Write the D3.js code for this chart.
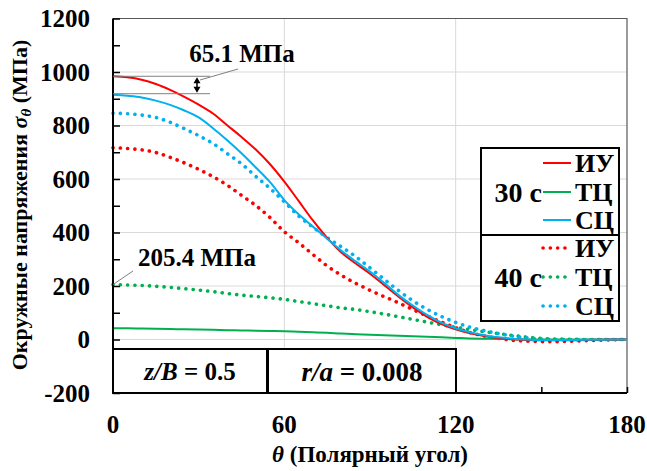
<!DOCTYPE html>
<html><head><meta charset="utf-8">
<script src="https://cdn.jsdelivr.net/npm/d3@7"></script>
<style>body{margin:0;background:#fff}svg{display:block}</style>
</head><body><svg id="c" width="647" height="471"></svg>
<script>
const theta = [0,5,10,15,20,25,30,35,40,45,50,55,60,65,70,75,80,85,90,95,100,105,110,115,120,125,130,135,140,145,150,155,160,165,170,175,180];
const iu30 = [984,980,971,955,933,907,878,845,801,757,710,655,590,518,445,380,325,284,246,203,160,120,85,58,38,23,13,6,1,-2,-3,-3,-3,-2,-1,0,0];
const tc30 = [42,42,41,40,39,38,37,36,35,34,33,32,31,29,27,25,22,20,18,16,14,12,10,8,6,4,3,2,1,0,0,0,0,0,0,0,0];
const sc30 = [915,911,905,893,877,856,830,790,745,696,643,588,521,468,422,377,332,292,254,211,166,127,92,63,42,27,16,8,3,0,-2,-2,-2,-1,-1,0,0];
const iu40 = [717,714,709,699,681,660,636,609,577,539,501,456,403,362,318,275,240,210,184,160,137,112,88,65,44,26,13,4,-3,-6,-8,-8,-7,-5,-3,-1,0];
const tc40 = [205,204,202,199,195,190,185,179,172,166,161,156,150,142,134,126,118,112,104,95,85,75,65,55,46,37,29,22,15,9,4,2,1,0,0,0,0];
const sc40 = [846,844,839,830,812,788,762,733,695,657,610,565,515,462,420,381,346,310,268,225,183,145,113,86,64,46,33,22,13,6,2,0,0,0,0,0,0];
const yTicks = [-200,0,200,400,600,800,1000,1200];
const xTicks = [0,60,120,180];
const legendGroups = ["30 с","40 с"];
const legendNames = ["ИУ","ТЦ","СЦ"];
const peakIU30 = 984, peakSC30 = 918.9, peakTC40 = 205.4;

const FONT='"Liberation Serif", "DejaVu Serif", serif';
const L=113,R=627,T=18.5,B=393;
const svg=d3.select("#c");
const x=d3.scaleLinear().domain([0,180]).range([L,R]);
const y=d3.scaleLinear().domain([-200,1200]).range([B,T]);
function txt(sel){return sel.append("text").attr("font-family",FONT).attr("font-weight","bold").style("font-family",FONT);}

svg.append("g").selectAll("line").data(yTicks.filter(v=>v>-200&&v<1200)).join("line")
 .attr("x1",L).attr("x2",R).attr("y1",d=>y(d)).attr("y2",d=>y(d)).attr("stroke","#d9d9d9").attr("stroke-width",1);
svg.append("g").selectAll("line").data([60,120]).join("line")
 .attr("y1",T).attr("y2",B).attr("x1",d=>x(d)).attr("x2",d=>x(d)).attr("stroke","#d9d9d9").attr("stroke-width",1);
svg.append("path").attr("d",`M${L},${T}H${R}V${B}`).attr("fill","none").attr("stroke","#595959").attr("stroke-width",1.2);

const colors={iu:"#ff0000",tc:"#00b050",sc:"#00b0f0"};
const series=[
 {v:iu30,c:colors.iu,dot:false},{v:tc30,c:colors.tc,dot:false},{v:sc30,c:colors.sc,dot:false},
 {v:iu40,c:colors.iu,dot:true},{v:tc40,c:colors.tc,dot:true},{v:sc40,c:colors.sc,dot:true}];
const line=d3.line().x((d,i)=>x(theta[i])).y(d=>y(d)).curve(d3.curveMonotoneX);
[3,4,5,1,0,2].forEach(k=>{
 const s=series[k];
 const p=svg.append("path").attr("d",line(s.v)).attr("fill","none").attr("stroke",s.c);
 if(s.dot) p.attr("stroke-width",3.6).attr("stroke-dasharray","0.1 7.2").attr("stroke-linecap","round");
 else p.attr("stroke-width",2);
});

const yAx=d3.axisLeft(y).tickValues(d3.range(-200,1201,100)).tickSize(-7).tickFormat("");
svg.append("g").attr("transform",`translate(${L},0)`).call(yAx).call(g=>{g.select(".domain").remove();g.selectAll("line").attr("stroke","#000").attr("stroke-width",1.5);});
const xAx=d3.axisBottom(x).tickValues(d3.range(0,181,30)).tickSize(-6).tickFormat("");
svg.append("g").attr("transform",`translate(0,${B})`).call(xAx).call(g=>{g.select(".domain").remove();g.selectAll("line").attr("stroke","#000").attr("stroke-width",1.5);});
svg.append("line").attr("x1",L).attr("x2",L).attr("y1",T).attr("y2",B+1).attr("stroke","#000").attr("stroke-width",2);
svg.append("line").attr("x1",L-1).attr("x2",R).attr("y1",B).attr("y2",B).attr("stroke","#000").attr("stroke-width",2);

yTicks.forEach(d=>txt(svg).attr("x",90).attr("y",y(d)+8.5).attr("text-anchor","end").attr("font-size",25).text(d));
xTicks.forEach(d=>txt(svg).attr("x",x(d)).attr("y",433).attr("text-anchor","middle").attr("font-size",25).text(d));

const xt=txt(svg).attr("x",370).attr("y",462).attr("text-anchor","middle").attr("font-size",23);
xt.append("tspan").attr("font-style","italic").text("θ");
xt.append("tspan").text(" (Полярный угол)");
const yt=txt(svg).attr("transform","translate(27,205) rotate(-90)").attr("text-anchor","middle").attr("font-size",22);
yt.append("tspan").text("Окружные напряжения ");
yt.append("tspan").attr("font-style","italic").text("σ");
yt.append("tspan").attr("font-style","italic").attr("font-size",15).attr("dy",4).text("θ");
yt.append("tspan").attr("dy",-4).text(" (МПа)");

[peakIU30,peakSC30].forEach(v=>svg.append("line").attr("x1",L).attr("x2",210).attr("y1",y(v)).attr("y2",y(v)).attr("stroke","#808080").attr("stroke-width",1));
const ax=197, ya=y(peakIU30), yb=y(peakSC30);
svg.append("line").attr("x1",ax).attr("x2",ax).attr("y1",ya+4).attr("y2",yb-4).attr("stroke","#000").attr("stroke-width",1.5);
svg.append("path").attr("d",`M${ax},${ya+1}l-3.5,6h7z M${ax},${yb-1}l-3.5,-6h7z`).attr("fill","#000");
svg.append("line").attr("x1",200).attr("y1",80).attr("x2",238).attr("y2",69).attr("stroke","#808080").attr("stroke-width",1);
txt(svg).attr("x",242).attr("y",62).attr("text-anchor","middle").attr("font-size",25).text("65.1 МПа");
svg.append("line").attr("x1",L).attr("y1",y(peakTC40)).attr("x2",133).attr("y2",271).attr("stroke","#808080").attr("stroke-width",1);
txt(svg).attr("x",197).attr("y",266).attr("text-anchor","middle").attr("font-size",25).text("205.4 МПа");

svg.append("rect").attr("x",L).attr("y",349).attr("width",154).attr("height",44).attr("fill","#fff").attr("stroke","#000").attr("stroke-width",2);
svg.append("rect").attr("x",268).attr("y",349).attr("width",188).attr("height",44).attr("fill","#fff").attr("stroke","#000").attr("stroke-width",2);
const t1=txt(svg).attr("x",190).attr("y",380).attr("text-anchor","middle").attr("font-size",25);
t1.append("tspan").attr("font-style","italic").text("z/B");t1.append("tspan").text(" = 0.5");
const t2=txt(svg).attr("x",362).attr("y",381).attr("text-anchor","middle").attr("font-size",27);
t2.append("tspan").attr("font-style","italic").text("r/a");t2.append("tspan").text(" = 0.008");

svg.append("rect").attr("x",481).attr("y",148).attr("width",138).attr("height",173).attr("fill","#fff").attr("stroke","#000").attr("stroke-width",2);
svg.append("line").attr("x1",481).attr("x2",619).attr("y1",235).attr("y2",235).attr("stroke","#000").attr("stroke-width",2);
const rowsY=[163,192,220,248,277,306];
series.forEach((s,i)=>{
 const yy=rowsY[i];
 const l=svg.append("line").attr("x1",543).attr("x2",571).attr("y1",yy).attr("y2",yy).attr("stroke",s.c);
 if(s.dot) l.attr("stroke-width",3.6).attr("stroke-dasharray","0.1 7.2").attr("stroke-linecap","round");
 else l.attr("stroke-width",2);
 txt(svg).attr("x",575).attr("y",yy+9).attr("font-size",26).text(legendNames[i%3]);
});
legendGroups.forEach((g,i)=>txt(svg).attr("x",542).attr("y",rowsY[1+3*i]+10).attr("text-anchor","end").attr("font-size",28).text(g));
</script></body></html>
